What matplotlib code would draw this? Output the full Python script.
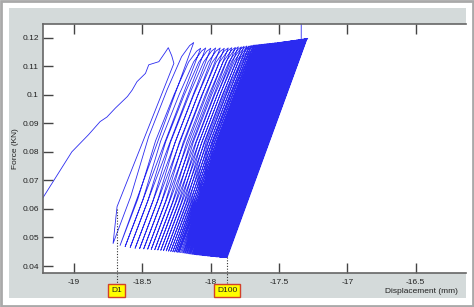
import matplotlib
matplotlib.use("Agg")
import matplotlib.pyplot as plt
from matplotlib.patches import Rectangle

plt.rcParams['font.family'] = ['Liberation Sans', 'DejaVu Sans']

# first (monotonic) loading curve and first unloading
first_x = [-19.30, -19.23, -19.017, -18.895, -18.81, -18.76, -18.699, -18.61,
           -18.576, -18.54, -18.478, -18.454, -18.38, -18.33, -18.311,
           -18.286, -18.27, -18.686]
first_y = [0.0585, 0.0638, 0.0800, 0.0860, 0.0906, 0.0922, 0.0953, 0.0994,
           0.1016, 0.1046, 0.1075, 0.1105, 0.1116, 0.1151, 0.1165,
           0.1137, 0.1110, 0.0608]

# cycle minima (valleys) and maxima (peaks), cycles 1..100
valley_x = [-18.715, -18.664, -18.627, -18.590, -18.554, -18.521, -18.491, -18.462, -18.436, -18.410,
            -18.388, -18.366, -18.346, -18.326, -18.309, -18.293, -18.278, -18.265, -18.253, -18.242,
            -18.232, -18.222, -18.213, -18.205, -18.198, -18.191, -18.185, -18.178, -18.172, -18.165,
            -18.158, -18.152, -18.145, -18.138, -18.132, -18.126, -18.121, -18.115, -18.110, -18.104,
            -18.099, -18.093, -18.088, -18.082, -18.077, -18.072, -18.068, -18.063, -18.059, -18.054,
            -18.050, -18.046, -18.041, -18.037, -18.032, -18.028, -18.024, -18.019, -18.015, -18.010,
            -18.007, -18.003, -17.999, -17.996, -17.992, -17.988, -17.985, -17.981, -17.977, -17.974,
            -17.970, -17.966, -17.963, -17.959, -17.955, -17.951, -17.948, -17.944, -17.940, -17.937,
            -17.934, -17.931, -17.929, -17.926, -17.923, -17.921, -17.918, -17.915, -17.912, -17.910,
            -17.907, -17.904, -17.902, -17.899, -17.896, -17.893, -17.891, -17.888, -17.885, -17.880]
valley_y = [0.0479, 0.0472, 0.0468, 0.0465, 0.0462, 0.0461, 0.0460, 0.0459, 0.0458, 0.0457,
            0.0456, 0.0455, 0.0454, 0.0453, 0.0452, 0.0451, 0.0450, 0.0449, 0.0449, 0.0448,
            0.0448, 0.0447, 0.0447, 0.0446, 0.0446, 0.0445, 0.0445, 0.0444, 0.0444, 0.0443,
            0.0443, 0.0442, 0.0442, 0.0441, 0.0441, 0.0441, 0.0440, 0.0440, 0.0440, 0.0439,
            0.0439, 0.0439, 0.0439, 0.0438, 0.0438, 0.0438, 0.0438, 0.0437, 0.0437, 0.0437,
            0.0437, 0.0436, 0.0436, 0.0436, 0.0436, 0.0436, 0.0435, 0.0435, 0.0435, 0.0435,
            0.0435, 0.0434, 0.0434, 0.0434, 0.0434, 0.0434, 0.0433, 0.0433, 0.0433, 0.0433,
            0.0433, 0.0433, 0.0432, 0.0432, 0.0432, 0.0432, 0.0432, 0.0432, 0.0432, 0.0431,
            0.0431, 0.0431, 0.0431, 0.0431, 0.0431, 0.0431, 0.0431, 0.0431, 0.0430, 0.0430,
            0.0430, 0.0430, 0.0430, 0.0430, 0.0430, 0.0430, 0.0430, 0.0430, 0.0430, 0.0430]
peak_x = [-18.125, -18.074, -18.037, -18.000, -17.964, -17.931, -17.901, -17.872, -17.846, -17.820,
          -17.798, -17.776, -17.756, -17.736, -17.719, -17.703, -17.688, -17.675, -17.663, -17.652,
          -17.642, -17.632, -17.623, -17.615, -17.608, -17.601, -17.595, -17.588, -17.582, -17.575,
          -17.568, -17.562, -17.555, -17.548, -17.542, -17.536, -17.531, -17.525, -17.520, -17.514,
          -17.509, -17.503, -17.498, -17.492, -17.487, -17.482, -17.478, -17.473, -17.469, -17.464,
          -17.460, -17.456, -17.451, -17.447, -17.442, -17.438, -17.434, -17.429, -17.425, -17.420,
          -17.417, -17.413, -17.409, -17.406, -17.402, -17.398, -17.395, -17.391, -17.387, -17.384,
          -17.380, -17.376, -17.373, -17.369, -17.365, -17.361, -17.358, -17.354, -17.350, -17.347,
          -17.344, -17.341, -17.339, -17.336, -17.333, -17.331, -17.328, -17.325, -17.322, -17.320,
          -17.317, -17.314, -17.312, -17.309, -17.306, -17.303, -17.301, -17.298, -17.295, -17.290]
peak_y = [0.1183, 0.1163, 0.1164, 0.1163, 0.1164, 0.1164, 0.1163, 0.1164, 0.1165, 0.1166,
          0.1168, 0.1168, 0.1170, 0.1171, 0.1171, 0.1173, 0.1174, 0.1175, 0.1175, 0.1176,
          0.1176, 0.1177, 0.1177, 0.1177, 0.1178, 0.1178, 0.1178, 0.1179, 0.1179, 0.1179,
          0.1180, 0.1180, 0.1180, 0.1181, 0.1181, 0.1181, 0.1182, 0.1182, 0.1182, 0.1182,
          0.1183, 0.1183, 0.1183, 0.1184, 0.1184, 0.1184, 0.1185, 0.1185, 0.1185, 0.1186,
          0.1186, 0.1186, 0.1186, 0.1187, 0.1187, 0.1187, 0.1187, 0.1188, 0.1188, 0.1188,
          0.1189, 0.1189, 0.1189, 0.1189, 0.1190, 0.1190, 0.1190, 0.1190, 0.1191, 0.1191,
          0.1191, 0.1191, 0.1192, 0.1192, 0.1192, 0.1192, 0.1193, 0.1193, 0.1193, 0.1193,
          0.1193, 0.1194, 0.1194, 0.1194, 0.1194, 0.1194, 0.1195, 0.1195, 0.1195, 0.1195,
          0.1195, 0.1196, 0.1196, 0.1196, 0.1196, 0.1196, 0.1197, 0.1197, 0.1197, 0.1197]

# shape of one loading branch (fraction of stroke vs fraction of load), from cycle 2
load_shape_x = [0.0, 0.22, 0.44, 0.67, 0.85, 0.95, 1.0]
load_shape_y = [0.0, 0.235, 0.53, 0.765, 0.93, 0.985, 1.0]

# final jump at failure
spike_x = [-17.338, -17.338]
spike_y = [0.1190, 0.1300]

marker_labels = ['D1', 'D100']
marker_x = [-18.69, -17.88]
marker_y = [0.0600, 0.0432]

xticks = [-19, -18.5, -18, -17.5, -17, -16.5]
yticks = [0.04, 0.05, 0.06, 0.07, 0.08, 0.09, 0.1, 0.11, 0.12]

# build the full load/displacement path
xs = list(first_x)
ys = list(first_y)
for x0, y0, x1, y1 in zip(valley_x, valley_y, peak_x, peak_y):
    for fx, fy in zip(load_shape_x, load_shape_y):
        xs.append(x0 + fx * (x1 - x0))
        ys.append(y0 + fy * (y1 - y0))
xs += spike_x
ys += spike_y

fig = plt.figure(figsize=(4.74, 3.07), dpi=100)
fig.patch.set_facecolor('white')
fig.patches.append(Rectangle((9 / 474, 9 / 307), 457 / 474, 290 / 307,
                             transform=fig.transFigure, facecolor='#d4dada',
                             edgecolor='none', zorder=-2))
fig.patches.append(Rectangle((0.002, 0.003), 0.996, 0.994, transform=fig.transFigure,
                             fill=False, edgecolor='#a9a9a9', lw=2, zorder=-1))

ax = fig.add_axes([43 / 474, 34 / 307, 423 / 474, 249 / 307])
ax.set_facecolor('white')
ax.plot(xs, ys, color='#2b2bf0', lw=0.6)

ax.set_xlim(-19.228, -16.132)
ax.set_ylim(0.03755, 0.1248)
ax.set_xticks(xticks)
ax.set_xticklabels(['-19', '-18.5', '-18', '-17.5', '-17', '-16.5'])
ax.set_yticks(yticks)
ax.set_yticklabels(['0.04', '0.05', '0.06', '0.07', '0.08', '0.09', '0.1', '0.11', '0.12'])
ax.tick_params(axis='both', direction='in', length=7, width=1, color='#444444',
               labelsize=6, labelcolor='#222222', pad=3)
ax.tick_params(axis='x', top=True, pad=4)
for side in ['left', 'top', 'bottom']:
    ax.spines[side].set_color('#666666')
    ax.spines[side].set_linewidth(1.2)
ax.spines['right'].set_visible(False)

ax.set_ylabel('Force (KN)', fontsize=6, color='#222222', labelpad=2)
ax.text(0.98, -0.075, 'Displacement (mm)', transform=ax.transAxes, ha='right',
        va='center', fontsize=6, color='#222222')

for lab, mx, my in zip(marker_labels, marker_x, marker_y):
    ax.plot([mx, mx], [my, 0.0342], color='#333333', lw=0.8, ls=(0, (1, 1.5)),
            clip_on=False)
    ax.text(mx, 0.0315, lab, ha='center', va='center', fontsize=6, color='#222222',
            bbox=dict(boxstyle='square,pad=0.35', facecolor='#ffff00',
                      edgecolor='#d2402a', lw=1), clip_on=False)

fig.savefig('out.png', dpi=100)
